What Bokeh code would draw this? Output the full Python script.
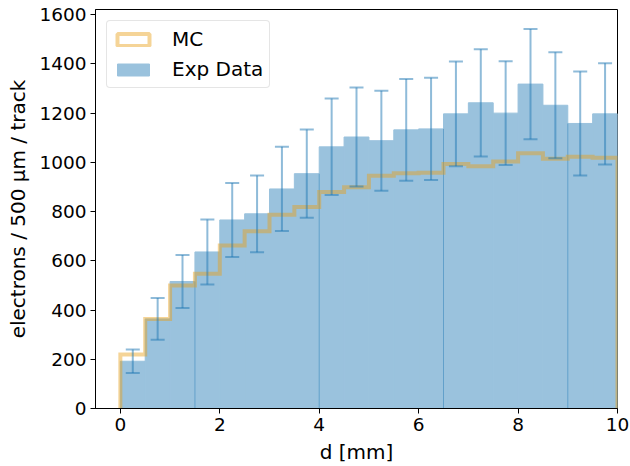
import numpy as np
from bokeh.plotting import figure
from bokeh.models import (ColumnDataSource, Whisker, TeeHead, Legend, LegendItem,
                          FixedTicker, Range1d)
from bokeh.embed import file_html
from bokeh.resources import INLINE

# ---- data ----
bin_edges = [0.0, 0.5, 1.0, 1.5, 2.0, 2.5, 3.0, 3.5, 4.0, 4.5, 5.0,
             5.5, 6.0, 6.5, 7.0, 7.5, 8.0, 8.5, 9.0, 9.5, 10.0]
exp_data = [192, 364, 516, 636, 766, 791, 892, 954, 1063, 1103,
            1088, 1132, 1136, 1197, 1242, 1200, 1318, 1232, 1158, 1197]
exp_err = [48, 85, 108, 132, 150, 156, 171, 179, 196, 201,
           203, 207, 208, 213, 218, 211, 224, 215, 211, 206]
mc = [219, 364, 500, 547, 662, 720, 787, 819, 880, 899,
      946, 956, 958, 993, 984, 1003, 1037, 1015, 1023, 1019]
x_ticks = [0, 2, 4, 6, 8, 10]
y_ticks = [0, 200, 400, 600, 800, 1000, 1200, 1400, 1600]

FONT = "DejaVu Sans"
BLUE = "#1f77b4"
BAR = "#9ac2dd"     # BLUE at alpha 0.45 over white
ORANGE = "#e9a018"

edges = np.array(bin_edges)
left = edges[:-1]
right = edges[1:]
centers = (left + right) / 2
vals = np.array(exp_data, dtype=float)
errs = np.array(exp_err, dtype=float)
mcv = np.array(mc, dtype=float)

p = figure(width=630, height=466, output_backend="svg", toolbar_location=None,
           x_range=Range1d(-0.5, 10.0), y_range=Range1d(0, 1621),
           min_border_left=95, min_border_right=13, min_border_top=9,
           min_border_bottom=57)
p.xgrid.visible = False
p.ygrid.visible = False
p.outline_line_color = "black"
p.outline_line_width = 1
p.outline_line_alpha = 1
p.background_fill_color = "white"
p.border_fill_color = "white"

# bars
bar_src = ColumnDataSource(dict(x=centers, top=vals, err_lo=vals - errs, err_hi=vals + errs))
bars = p.vbar(x="x", top="top", width=0.5, bottom=0, source=bar_src,
              fill_color=BAR, fill_alpha=1.0, line_color=BAR, line_width=1)

# thin seam lines in the bars (every 5th edge)
seam_idx = list(range(3, len(edges) - 1, 5))
seam_x = [edges[i] for i in seam_idx]
seam_top = [min(vals[i - 1], vals[i]) for i in seam_idx]
p.segment(x0=seam_x, y0=[0] * len(seam_x), x1=seam_x, y1=seam_top,
          line_color=BLUE, line_alpha=0.45, line_width=1)

# MC step histogram
sx = [edges[0]]
sy = [0.0]
for i in range(len(mcv)):
    sx += [left[i], right[i]]
    sy += [mcv[i], mcv[i]]
sx.append(edges[-1])
sy.append(0.0)
p.line(sx, sy, line_color=ORANGE, line_alpha=0.45, line_width=4, line_join="miter")

# legend proxy for MC (hidden)
mc_src = ColumnDataSource(dict(left=left, right=right, top=mcv, bottom=np.zeros_like(mcv)))
mc_proxy = p.quad(left="left", right="right", top="top", bottom="bottom", source=mc_src,
                  fill_alpha=0, line_color=ORANGE, line_alpha=0.45, line_width=4)
mc_proxy.visible = False

# error bars
w = Whisker(source=bar_src, base="x", upper="err_hi", lower="err_lo",
            line_color=BLUE, line_alpha=0.5, line_width=2, level="annotation",
            upper_head=TeeHead(size=14, line_color=BLUE, line_alpha=0.5, line_width=2),
            lower_head=TeeHead(size=14, line_color=BLUE, line_alpha=0.5, line_width=2))
p.add_layout(w)

# axes
for ax in (p.xaxis[0], p.yaxis[0]):
    ax.major_label_text_font = FONT
    ax.major_label_text_font_size = "18.5px"
    ax.major_label_text_color = "black"
    ax.axis_label_text_font = FONT
    ax.axis_label_text_font_size = "20px"
    ax.axis_label_text_font_style = "normal"
    ax.axis_label_text_color = "black"
    ax.axis_line_color = "black"
    ax.major_tick_line_color = "black"
    ax.major_tick_in = 0
    ax.major_tick_out = 5
    ax.minor_tick_line_color = None
    ax.major_label_standoff = 4
    ax.axis_label_standoff = 6

p.xaxis.ticker = FixedTicker(ticks=x_ticks)
p.yaxis.ticker = FixedTicker(ticks=y_ticks)
p.xaxis.axis_label = "d [mm]"
p.yaxis.axis_label = "electrons / 500 μm / track"

legend = Legend(items=[LegendItem(label="MC", renderers=[mc_proxy]),
                       LegendItem(label="Exp Data", renderers=[bars])],
                location="top_left")
legend.margin = 11
legend.padding = 6
legend.spacing = 6
legend.glyph_width = 40
legend.glyph_height = 15
legend.label_height = 24
legend.label_standoff = 19
legend.label_text_font = FONT
legend.label_text_font_size = "20px"
legend.label_text_color = "black"
legend.border_line_color = "#cccccc"
legend.border_line_width = 1
legend.background_fill_color = "white"
legend.background_fill_alpha = 0.8
if "border_radius" in Legend.properties():
    legend.border_radius = 4
p.add_layout(legend)

open("out.html", "w").write(file_html(p, INLINE))
